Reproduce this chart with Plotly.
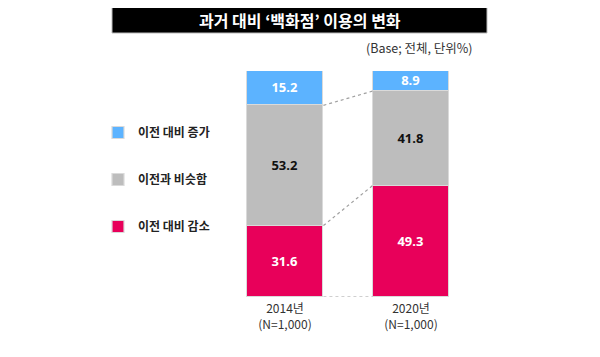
import plotly.graph_objects as go

categories = ["2014년<br>(N=1,000)", "2020년<br>(N=1,000)"]
series_names = ["이전 대비 감소", "이전과 비슷함", "이전 대비 증가"]
decrease = [31.6, 49.3]
similar = [53.2, 41.8]
increase = [15.2, 8.9]
colors = ["#E8005A", "#BDBDBD", "#5CB3FF"]
text_colors = ["white", "#111111", "white"]
legend_ranks = [3, 2, 1]

title_text = "과거 대비 ‘백화점’ 이용의 변화"
note_text = "(Base; 전체, 단위%)"

xs = [0, 1]
bar_w = 0.61
series = [decrease, similar, increase]

# page body has an 8px margin; compensate so the plot lands where intended
OFF = 8
PL, PW, PB, PH = 222, 252, 297, 226  # screen-space plot area


def px(x):
    return (x - PL) / PW


def py(y):
    return (PB - y) / PH


fig = go.Figure()
for i, (name, vals) in enumerate(zip(series_names, series)):
    fig.add_trace(go.Bar(
        x=xs, y=vals, name=name, width=bar_w,
        marker=dict(color=colors[i], line=dict(color="#DADADA", width=1.2)),
        text=[f"{v:.1f}" for v in vals], textposition="inside",
        insidetextanchor="middle", constraintext="none",
        textfont=dict(color=text_colors[i], size=13, family="Noto Sans", weight="bold"),
        legendgroup=name, legendrank=legend_ranks[i], hoverinfo="skip",
    ))

# dashed connector lines between stacks
cum_left = [0, decrease[0], decrease[0] + similar[0]]
cum_right = [0, decrease[1], decrease[1] + similar[1]]
for yl, yr in zip(cum_left, cum_right):
    fig.add_shape(type="line", xref="x", yref="y",
                  x0=xs[0] + bar_w / 2, y0=yl, x1=xs[1] - bar_w / 2, y1=yr,
                  line=dict(color="#A0A0A0", width=1.2, dash="dot"), layer="above")

# title box
fig.add_shape(type="rect", xref="paper", yref="paper",
              x0=px(112), x1=px(487), y0=py(33), y1=py(7),
              fillcolor="black", line=dict(color="#BBBBBB", width=1))
fig.add_annotation(text=title_text, xref="paper", yref="paper",
                   x=px(300), y=py(20), showarrow=False,
                   font=dict(color="white", size=16, family="Noto Sans CJK KR", weight="bold"),
                   xanchor="center", yanchor="middle")
fig.add_annotation(text=note_text, xref="paper", yref="paper",
                   x=px(475), y=py(47), showarrow=False,
                   font=dict(color="#333333", size=12.5, family="Noto Sans CJK KR"),
                   xanchor="right", yanchor="middle")

fig.update_layout(
    width=600, height=357,
    margin=dict(l=PL - OFF, r=600 - PL - PW + OFF, t=(PB - PH) - OFF, b=357 - PB + OFF),
    barmode="stack", bargap=0,
    plot_bgcolor="white", paper_bgcolor="white",
    showlegend=True,
    legend=dict(x=px(98), y=py(118), xanchor="left", yanchor="top",
                traceorder="grouped", tracegroupgap=28,
                font=dict(size=12, color="#222222", family="Noto Sans CJK KR", weight="bold"),
                itemwidth=30, bgcolor="rgba(0,0,0,0)"),
    xaxis=dict(range=[-0.5, 1.5], tickvals=xs, ticktext=categories, showgrid=False,
               zeroline=False, showline=False, ticks="", ticklabelstandoff=3,
               tickfont=dict(size=12, color="#333333", family="Noto Sans CJK KR")),
    yaxis=dict(range=[0, 100], visible=False, showgrid=False, zeroline=False),
)

fig.write_html("out.html")
